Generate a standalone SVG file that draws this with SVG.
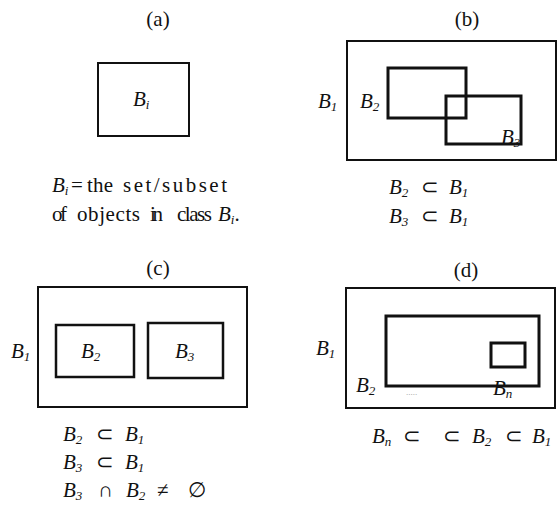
<svg xmlns="http://www.w3.org/2000/svg" width="558" height="508" viewBox="0 0 558 508">
<style>
text{font-family:"Liberation Serif","Times New Roman",serif;fill:#111;font-size:21px}
.i{font-style:italic}
.s{font-size:13px;font-style:italic}
.t{text-anchor:middle}
.o{fill:none;stroke:#111;stroke-width:2}
.n{fill:none;stroke:#111;stroke-width:3}
</style>
<rect width="558" height="508" fill="#fff"/>
<g id="panel-a">
<text class="t" x="158" y="26">(a)</text>
<g id="a-Bi"><rect class="o" x="98" y="63" width="91" height="73"/>
<text class="i" x="133" y="106">B<tspan class="s" dy="3">i</tspan></text></g>
<text class="i" x="52" y="192">B<tspan class="s" dy="3">i</tspan></text>
<text x="71" y="192">=</text>
<text x="87" y="192" textLength="26" lengthAdjust="spacing">the</text>
<text x="123" y="192" textLength="104" lengthAdjust="spacing">set/subset</text>
<text x="52" y="221" textLength="15" lengthAdjust="spacing">of</text>
<text x="77" y="221" textLength="63" lengthAdjust="spacing">objects</text>
<text x="150" y="221" textLength="13" lengthAdjust="spacing">in</text>
<text x="177" y="221" textLength="35" lengthAdjust="spacing">class</text>
<text class="i" x="218" y="221">B<tspan class="s" dy="3">i</tspan><tspan dy="-3" style="font-style:normal">.</tspan></text>
</g>
<g id="panel-b">
<text class="t" x="467" y="26">(b)</text>
<g id="b-B1"><rect class="o" x="347" y="41" width="209" height="119"/>
<text class="i" x="318" y="108">B<tspan class="s" dy="3">1</tspan></text></g>
<g id="b-B2"><rect class="n" x="388" y="68" width="78" height="50"/>
<text class="i" x="360" y="108">B<tspan class="s" dy="3">2</tspan></text></g>
<g id="b-B3"><rect class="n" x="446" y="96" width="75" height="48"/>
<text class="i" x="501" y="144">B<tspan class="s" dy="3">3</tspan></text></g>
<text class="i" x="389" y="194">B<tspan class="s" dy="3">2</tspan></text>
<text x="421" y="194">⊂</text>
<text class="i" x="449" y="194">B<tspan class="s" dy="3">1</tspan></text>
<text class="i" x="389" y="223">B<tspan class="s" dy="3">3</tspan></text>
<text x="421" y="223">⊂</text>
<text class="i" x="449" y="223">B<tspan class="s" dy="3">1</tspan></text>
</g>
<g id="panel-c">
<text class="t" x="158" y="275">(c)</text>
<g id="c-B1"><rect class="o" x="38" y="287" width="209" height="120"/>
<text class="i" x="11" y="358">B<tspan class="s" dy="3">1</tspan></text></g>
<g id="c-B2"><rect class="o" x="56" y="325" width="78" height="52" style="stroke-width:2.5"/>
<text class="i" x="81" y="358">B<tspan class="s" dy="3">2</tspan></text></g>
<g id="c-B3"><rect class="o" x="148" y="323" width="75" height="55" style="stroke-width:2.5"/>
<text class="i" x="175" y="358">B<tspan class="s" dy="3">3</tspan></text></g>
<text class="i" x="63" y="441">B<tspan class="s" dy="3">2</tspan></text>
<text x="96" y="441">⊂</text>
<text class="i" x="125" y="441">B<tspan class="s" dy="3">1</tspan></text>
<text class="i" x="63" y="469">B<tspan class="s" dy="3">3</tspan></text>
<text x="96" y="469">⊂</text>
<text class="i" x="125" y="469">B<tspan class="s" dy="3">1</tspan></text>
<text class="i" x="63" y="497">B<tspan class="s" dy="3">3</tspan></text>
<text x="98" y="497">∩</text>
<text class="i" x="126" y="497">B<tspan class="s" dy="3">2</tspan></text>
<text x="157" y="497">≠</text>
<text x="188" y="497">∅</text>
</g>
<g id="panel-d">
<text class="t" x="466" y="277">(d)</text>
<g id="d-B1"><rect class="o" x="346" y="288" width="209" height="120"/>
<text class="i" x="316" y="355">B<tspan class="s" dy="3">1</tspan></text></g>
<g id="d-B2"><rect class="n" x="386" y="316" width="153" height="70"/>
<text class="i" x="356" y="392">B<tspan class="s" dy="3">2</tspan></text></g>
<g id="d-Bn"><rect class="n" x="491" y="343" width="34" height="24"/>
<text class="i" x="493" y="395">B<tspan class="s" dy="3">n</tspan></text></g>
<text x="406" y="395" style="font-size:9px;fill:#999">.....</text>
<text class="i" x="372" y="443">B<tspan class="s" dy="3">n</tspan></text>
<text x="403" y="443">⊂</text>
<text x="443" y="443">⊂</text>
<text class="i" x="472" y="443">B<tspan class="s" dy="3">2</tspan></text>
<text x="505" y="443">⊂</text>
<text class="i" x="532" y="443">B<tspan class="s" dy="3">1</tspan></text>
</g>
</svg>
